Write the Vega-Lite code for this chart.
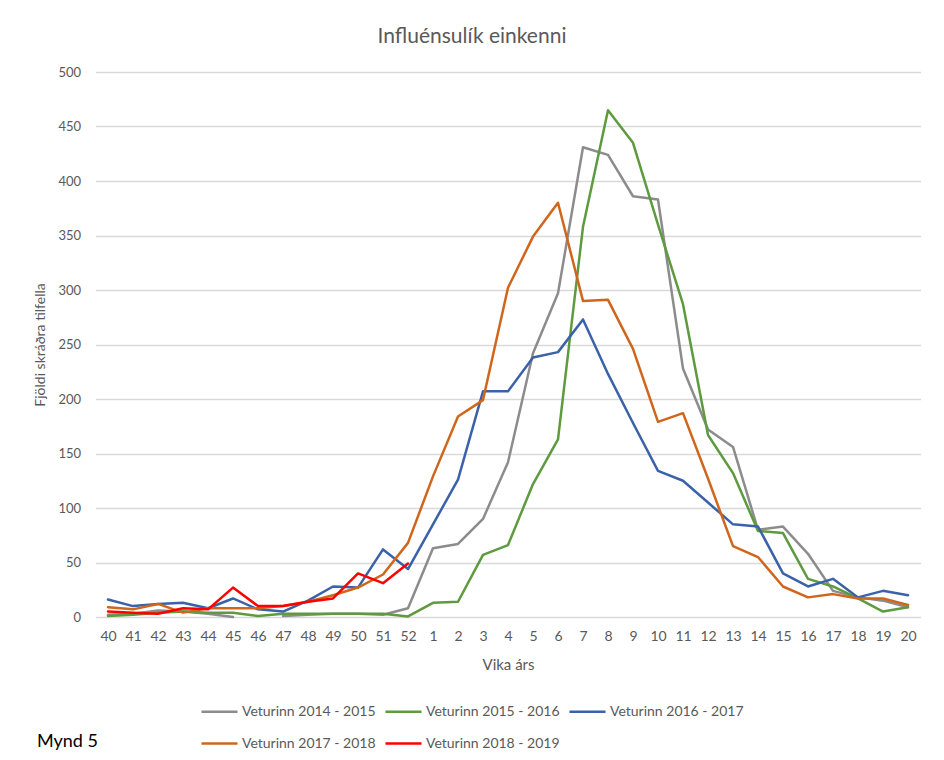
{
 "$schema": "https://vega.github.io/schema/vega-lite/v6.json",
 "width": 825,
 "height": 545,
 "autosize": "none",
 "padding": {"left": 95.5, "top": 72, "right": 23.5, "bottom": 143},
 "background": "white",
 "config": {"view": {"stroke": null}, "font": "Lato, sans-serif"},
 "title": {"text": "Influénsulík einkenni", "fontSize": 21, "color": "#595959", "fontWeight": "normal", "anchor": "middle", "dx": -36, "offset": 19},
 "data": {"values": [
  {"week":"40","s":"Veturinn 2014 - 2015","v":2},{"week":"41","s":"Veturinn 2014 - 2015","v":3},{"week":"42","s":"Veturinn 2014 - 2015","v":6},{"week":"43","s":"Veturinn 2014 - 2015","v":5},{"week":"44","s":"Veturinn 2014 - 2015","v":3},{"week":"45","s":"Veturinn 2014 - 2015","v":0},{"week":"46","s":"Veturinn 2014 - 2015","v":null},{"week":"47","s":"Veturinn 2014 - 2015","v":1},{"week":"48","s":"Veturinn 2014 - 2015","v":2},{"week":"49","s":"Veturinn 2014 - 2015","v":3},{"week":"50","s":"Veturinn 2014 - 2015","v":3},{"week":"51","s":"Veturinn 2014 - 2015","v":2},{"week":"52","s":"Veturinn 2014 - 2015","v":8},
  {"week":"1","s":"Veturinn 2014 - 2015","v":63},{"week":"2","s":"Veturinn 2014 - 2015","v":67},{"week":"3","s":"Veturinn 2014 - 2015","v":90},{"week":"4","s":"Veturinn 2014 - 2015","v":142},{"week":"5","s":"Veturinn 2014 - 2015","v":242},{"week":"6","s":"Veturinn 2014 - 2015","v":297},{"week":"7","s":"Veturinn 2014 - 2015","v":431},{"week":"8","s":"Veturinn 2014 - 2015","v":424},{"week":"9","s":"Veturinn 2014 - 2015","v":386},{"week":"10","s":"Veturinn 2014 - 2015","v":383},{"week":"11","s":"Veturinn 2014 - 2015","v":228},{"week":"12","s":"Veturinn 2014 - 2015","v":172},{"week":"13","s":"Veturinn 2014 - 2015","v":156},{"week":"14","s":"Veturinn 2014 - 2015","v":80},{"week":"15","s":"Veturinn 2014 - 2015","v":83},{"week":"16","s":"Veturinn 2014 - 2015","v":58},{"week":"17","s":"Veturinn 2014 - 2015","v":24},{"week":"18","s":"Veturinn 2014 - 2015","v":18},{"week":"19","s":"Veturinn 2014 - 2015","v":15},{"week":"20","s":"Veturinn 2014 - 2015","v":9},
  {"week":"40","s":"Veturinn 2015 - 2016","v":1},{"week":"41","s":"Veturinn 2015 - 2016","v":2},{"week":"42","s":"Veturinn 2015 - 2016","v":4},{"week":"43","s":"Veturinn 2015 - 2016","v":5},{"week":"44","s":"Veturinn 2015 - 2016","v":4},{"week":"45","s":"Veturinn 2015 - 2016","v":4},{"week":"46","s":"Veturinn 2015 - 2016","v":1},{"week":"47","s":"Veturinn 2015 - 2016","v":3},{"week":"48","s":"Veturinn 2015 - 2016","v":3},{"week":"49","s":"Veturinn 2015 - 2016","v":3},{"week":"50","s":"Veturinn 2015 - 2016","v":3},{"week":"51","s":"Veturinn 2015 - 2016","v":3},{"week":"52","s":"Veturinn 2015 - 2016","v":0.5},
  {"week":"1","s":"Veturinn 2015 - 2016","v":13},{"week":"2","s":"Veturinn 2015 - 2016","v":14},{"week":"3","s":"Veturinn 2015 - 2016","v":57},{"week":"4","s":"Veturinn 2015 - 2016","v":66},{"week":"5","s":"Veturinn 2015 - 2016","v":122},{"week":"6","s":"Veturinn 2015 - 2016","v":163},{"week":"7","s":"Veturinn 2015 - 2016","v":358},{"week":"8","s":"Veturinn 2015 - 2016","v":465},{"week":"9","s":"Veturinn 2015 - 2016","v":435},{"week":"10","s":"Veturinn 2015 - 2016","v":360},{"week":"11","s":"Veturinn 2015 - 2016","v":287},{"week":"12","s":"Veturinn 2015 - 2016","v":167},{"week":"13","s":"Veturinn 2015 - 2016","v":132},{"week":"14","s":"Veturinn 2015 - 2016","v":79},{"week":"15","s":"Veturinn 2015 - 2016","v":77},{"week":"16","s":"Veturinn 2015 - 2016","v":35},{"week":"17","s":"Veturinn 2015 - 2016","v":28},{"week":"18","s":"Veturinn 2015 - 2016","v":17},{"week":"19","s":"Veturinn 2015 - 2016","v":5},{"week":"20","s":"Veturinn 2015 - 2016","v":9},
  {"week":"40","s":"Veturinn 2016 - 2017","v":16},{"week":"41","s":"Veturinn 2016 - 2017","v":10},{"week":"42","s":"Veturinn 2016 - 2017","v":12},{"week":"43","s":"Veturinn 2016 - 2017","v":13},{"week":"44","s":"Veturinn 2016 - 2017","v":8},{"week":"45","s":"Veturinn 2016 - 2017","v":17},{"week":"46","s":"Veturinn 2016 - 2017","v":7},{"week":"47","s":"Veturinn 2016 - 2017","v":5},{"week":"48","s":"Veturinn 2016 - 2017","v":15},{"week":"49","s":"Veturinn 2016 - 2017","v":28},{"week":"50","s":"Veturinn 2016 - 2017","v":27},{"week":"51","s":"Veturinn 2016 - 2017","v":62},{"week":"52","s":"Veturinn 2016 - 2017","v":44},
  {"week":"1","s":"Veturinn 2016 - 2017","v":85},{"week":"2","s":"Veturinn 2016 - 2017","v":126},{"week":"3","s":"Veturinn 2016 - 2017","v":207},{"week":"4","s":"Veturinn 2016 - 2017","v":207},{"week":"5","s":"Veturinn 2016 - 2017","v":238},{"week":"6","s":"Veturinn 2016 - 2017","v":243},{"week":"7","s":"Veturinn 2016 - 2017","v":273},{"week":"8","s":"Veturinn 2016 - 2017","v":223},{"week":"9","s":"Veturinn 2016 - 2017","v":178},{"week":"10","s":"Veturinn 2016 - 2017","v":134},{"week":"11","s":"Veturinn 2016 - 2017","v":125},{"week":"12","s":"Veturinn 2016 - 2017","v":105},{"week":"13","s":"Veturinn 2016 - 2017","v":85},{"week":"14","s":"Veturinn 2016 - 2017","v":83},{"week":"15","s":"Veturinn 2016 - 2017","v":40},{"week":"16","s":"Veturinn 2016 - 2017","v":28},{"week":"17","s":"Veturinn 2016 - 2017","v":35},{"week":"18","s":"Veturinn 2016 - 2017","v":18},{"week":"19","s":"Veturinn 2016 - 2017","v":24},{"week":"20","s":"Veturinn 2016 - 2017","v":20},
  {"week":"40","s":"Veturinn 2017 - 2018","v":9},{"week":"41","s":"Veturinn 2017 - 2018","v":7},{"week":"42","s":"Veturinn 2017 - 2018","v":12},{"week":"43","s":"Veturinn 2017 - 2018","v":4},{"week":"44","s":"Veturinn 2017 - 2018","v":8},{"week":"45","s":"Veturinn 2017 - 2018","v":8},{"week":"46","s":"Veturinn 2017 - 2018","v":8},{"week":"47","s":"Veturinn 2017 - 2018","v":10},{"week":"48","s":"Veturinn 2017 - 2018","v":14},{"week":"49","s":"Veturinn 2017 - 2018","v":20},{"week":"50","s":"Veturinn 2017 - 2018","v":27},{"week":"51","s":"Veturinn 2017 - 2018","v":39},{"week":"52","s":"Veturinn 2017 - 2018","v":68},
  {"week":"1","s":"Veturinn 2017 - 2018","v":129},{"week":"2","s":"Veturinn 2017 - 2018","v":184},{"week":"3","s":"Veturinn 2017 - 2018","v":199},{"week":"4","s":"Veturinn 2017 - 2018","v":302},{"week":"5","s":"Veturinn 2017 - 2018","v":349},{"week":"6","s":"Veturinn 2017 - 2018","v":380},{"week":"7","s":"Veturinn 2017 - 2018","v":290},{"week":"8","s":"Veturinn 2017 - 2018","v":291},{"week":"9","s":"Veturinn 2017 - 2018","v":246},{"week":"10","s":"Veturinn 2017 - 2018","v":179},{"week":"11","s":"Veturinn 2017 - 2018","v":187},{"week":"12","s":"Veturinn 2017 - 2018","v":127},{"week":"13","s":"Veturinn 2017 - 2018","v":65},{"week":"14","s":"Veturinn 2017 - 2018","v":55},{"week":"15","s":"Veturinn 2017 - 2018","v":28},{"week":"16","s":"Veturinn 2017 - 2018","v":18},{"week":"17","s":"Veturinn 2017 - 2018","v":21},{"week":"18","s":"Veturinn 2017 - 2018","v":17},{"week":"19","s":"Veturinn 2017 - 2018","v":17},{"week":"20","s":"Veturinn 2017 - 2018","v":11},
  {"week":"40","s":"Veturinn 2018 - 2019","v":5},{"week":"41","s":"Veturinn 2018 - 2019","v":4},{"week":"42","s":"Veturinn 2018 - 2019","v":3},{"week":"43","s":"Veturinn 2018 - 2019","v":8},{"week":"44","s":"Veturinn 2018 - 2019","v":7},{"week":"45","s":"Veturinn 2018 - 2019","v":27},{"week":"46","s":"Veturinn 2018 - 2019","v":10},{"week":"47","s":"Veturinn 2018 - 2019","v":10},{"week":"48","s":"Veturinn 2018 - 2019","v":14},{"week":"49","s":"Veturinn 2018 - 2019","v":17},{"week":"50","s":"Veturinn 2018 - 2019","v":40},{"week":"51","s":"Veturinn 2018 - 2019","v":31},{"week":"52","s":"Veturinn 2018 - 2019","v":49}
 ]},
 "mark": {"type": "line", "invalid": "break-paths-show-domains", "strokeJoin": "round", "strokeCap": "round"},
 "encoding": {
  "x": {"field": "week", "type": "ordinal",
   "scale": {"domain": ["40","41","42","43","44","45","46","47","48","49","50","51","52","1","2","3","4","5","6","7","8","9","10","11","12","13","14","15","16","17","18","19","20"], "padding": 0.5},
   "axis": {"title": "Vika árs", "labelAngle": 0, "domain": false, "ticks": false, "grid": false, "labelFontSize": 14, "labelColor": "#595959", "labelPadding": 12, "titleFontSize": 15, "titleFontWeight": "normal", "titleColor": "#595959", "titlePadding": 14}},
  "y": {"field": "v", "type": "quantitative",
   "scale": {"domain": [0, 500], "nice": false},
   "axis": {"title": "Fjöldi skráðra tilfella", "values": [0,50,100,150,200,250,300,350,400,450,500], "domain": false, "ticks": false, "gridColor": "#d9d9d9", "gridWidth": 1.3, "labelFontSize": 13, "labelColor": "#595959", "labelPadding": 15, "titleFontSize": 14, "titleFontWeight": "normal", "titleColor": "#595959", "titlePadding": 10}},
  "color": {"field": "s", "type": "nominal",
   "scale": {"domain": ["Veturinn 2014 - 2015","Veturinn 2015 - 2016","Veturinn 2016 - 2017","Veturinn 2017 - 2018","Veturinn 2018 - 2019"], "range": ["#8c8c8c","#5e9a3f","#3b62a8","#d0661c","#ff0000"]},
   "legend": {"title": "Mynd 5", "orient": "none", "legendX": -58.5, "legendY": 620, "direction": "horizontal", "columns": 3, "titleOrient": "left", "titleAnchor": "end", "titleFontSize": 18, "titleFontWeight": "normal", "titleColor": "#000000", "titlePadding": 102, "symbolType": "stroke", "symbolSize": 1300, "symbolStrokeWidth": 3, "labelFontSize": 14, "labelColor": "#595959", "labelOffset": 3, "columnPadding": 4, "rowPadding": 5, "gridAlign": "all"}},
  "strokeWidth": {"field": "s", "type": "nominal",
   "scale": {"domain": ["Veturinn 2014 - 2015","Veturinn 2015 - 2016","Veturinn 2016 - 2017","Veturinn 2017 - 2018","Veturinn 2018 - 2019"], "range": [2.5,2.5,2.5,2.5,4.5]},
   "legend": null}
 }
}
